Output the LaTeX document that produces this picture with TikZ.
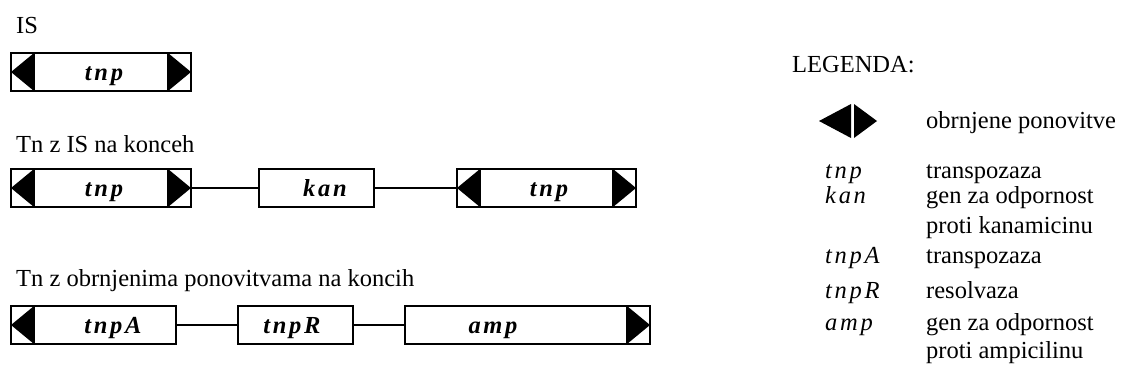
\documentclass[tikz,border=0pt]{standalone}
\usepackage{fontspec}
\setmainfont{Liberation Serif}
\newfontfamily\genefont[LetterSpace=11]{Liberation Serif}

\newcommand\repleft[1]{%
 \fill ([xshift=23pt]#1.north west) -- ([xshift=23pt]#1.south west) -- (#1.west) -- cycle;
 \draw[line width=2pt] ([xshift=23pt]#1.north west) -- ([xshift=23pt]#1.south west);}
\newcommand\repright[1]{%
 \fill ([xshift=-23pt]#1.north east) -- ([xshift=-23pt]#1.south east) -- (#1.east) -- cycle;
 \draw[line width=2pt] ([xshift=-23pt]#1.north east) -- ([xshift=-23pt]#1.south east);}

\begin{document}
\begin{tikzpicture}[x=1pt, y=-1pt,
 gene/.style={draw, line width=2pt, minimum height=38pt, inner sep=0pt, outer sep=0pt},
 genename/.style={anchor=base, inner sep=0pt, font=\fontsize{24.5}{28}\genefont\bfseries\itshape},
 heading/.style={anchor=base west, inner sep=0pt, font=\fontsize{24.5}{28}\selectfont},
 legkey/.style={anchor=base west, inner sep=0pt, font=\fontsize{24.5}{28}\genefont\itshape},
 link/.style={line width=1.5pt}]
 \useasboundingbox (0,0) rectangle (1122,381);

 % IS
 \node[heading] (isHead) at (16,33) {IS};
 \node[gene, minimum width=180pt] (is) at (101,72) {};
 \repleft{is} \repright{is}
 \node[genename] (isName) at (104,80) {tnp};

 % Tn z IS na konceh
 \node[heading] (tnHead) at (16,152) {Tn z IS na konceh};
 \node[gene, minimum width=180pt] (isLeft) at (101,188) {};
 \node[gene, minimum width=115pt] (kan) at (316.5,188) {};
 \node[gene, minimum width=179pt] (isRight) at (546.5,188) {};
 \repleft{isLeft} \repright{isLeft}
 \repleft{isRight} \repright{isRight}
 \draw[link] (isLeft.east) -- (kan.west);
 \draw[link] (kan.east) -- (isRight.west);
 \node[genename] (isLeftName) at (104,196) {tnp};
 \node[genename] (kanName) at (325,196) {kan};
 \node[genename] (isRightName) at (549,196) {tnp};

 % Tn z obrnjenima ponovitvama na koncih
 \node[heading] (irHead) at (16,286) {Tn z obrnjenima ponovitvama na koncih};
 \node[gene, minimum width=165pt] (tnpA) at (93.5,325) {};
 \node[gene, minimum width=115pt] (tnpR) at (295.5,325) {};
 \node[gene, minimum width=245pt] (amp) at (527.5,325) {};
 \repleft{tnpA} \repright{amp}
 \draw[link] (tnpA.east) -- (tnpR.west);
 \draw[link] (tnpR.east) -- (amp.west);
 \node[genename] (tnpAName) at (113,333) {tnpA};
 \node[genename] (tnpRName) at (292,333) {tnpR};
 \node[genename] (ampName) at (493,333) {amp};

 % legenda
 \node[heading] (legHead) at (792,72) {LEGENDA:};
 \fill (851,104) -- (851,138) -- (819,121) -- cycle;
 \fill (854,104) -- (854,138) -- (877,121) -- cycle;
 \node[heading] (legIR) at (926,128) {obrnjene ponovitve};
 \node[legkey] (legTnp) at (825,178) {tnp};
 \node[heading] (legTnpText) at (926,178) {transpozaza};
 \node[legkey] (legKan) at (825,203) {kan};
 \node[heading] (legKanText) at (926,203) {gen za odpornost};
 \node[heading] (legKanText2) at (926,233) {proti kanamicinu};
 \node[legkey] (legTnpA) at (825,263) {tnpA};
 \node[heading] (legTnpAText) at (926,263) {transpozaza};
 \node[legkey] (legTnpR) at (825,298) {tnpR};
 \node[heading] (legTnpRText) at (926,298) {resolvaza};
 \node[legkey] (legAmp) at (825,330) {amp};
 \node[heading] (legAmpText) at (926,330) {gen za odpornost};
 \node[heading] (legAmpText2) at (926,358) {proti ampicilinu};
\end{tikzpicture}
\end{document}
